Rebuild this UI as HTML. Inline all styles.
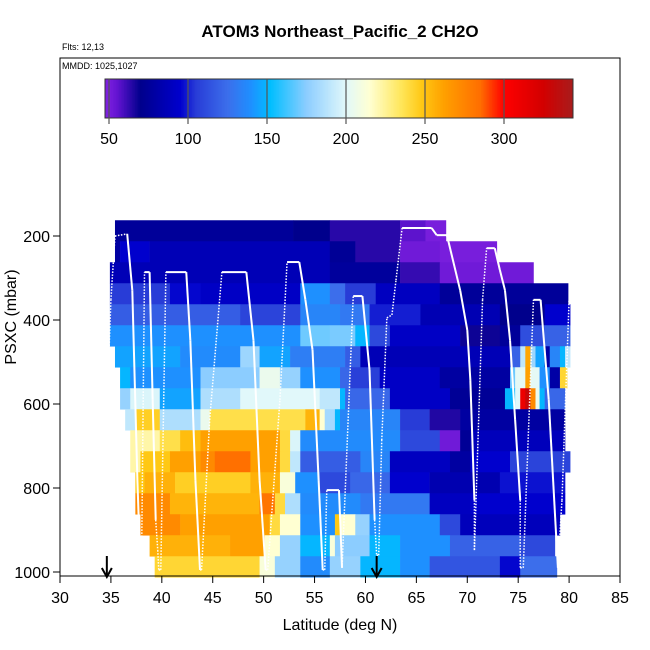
<!DOCTYPE html>
<html><head><meta charset="utf-8"><style>
html,body{margin:0;padding:0;background:#fff;}
svg{display:block;font-family:"Liberation Sans",sans-serif;}
</style></head><body>
<svg id="chart" width="650" height="650" viewBox="0 0 650 650" xmlns="http://www.w3.org/2000/svg">
<text x="340" y="37" text-anchor="middle" font-size="17" font-weight="bold">ATOM3 Northeast_Pacific_2 CH2O</text>
<text x="62" y="50" font-size="9">Flts: 12,13</text>
<text x="62" y="69" font-size="9">MMDD: 1025,1027</text>
<g id="cells"></g>
<g id="track"></g>
<g id="cbar"></g>
<g id="axes"></g>
<rect x="60" y="58" width="560" height="518" fill="none" stroke="#000" stroke-width="1"/>
<text x="340" y="630" text-anchor="middle" font-size="16">Latitude (deg N)</text>
<text transform="translate(16,317) rotate(-90)" text-anchor="middle" font-size="16">PSXC (mbar)</text>
</svg>
<script>
// ---- data ----
const xTicks = [30,35,40,45,50,55,60,65,70,75,80,85];
const yTicks = [200,400,600,800,1000];
const cbarTicks = [50,100,150,200,250,300];
const pressureBins = [187.5,237.5,287.5,337.5,387.5,437.5,487.5,537.5,587.5,637.5,687.5,737.5,787.5,837.5,887.5,937.5,987.5];
const row0 = [[35.4,52.9,75],[52.9,56.5,70],[56.5,63.4,64],[63.4,65.9,56],[65.9,67.9,50]];
const row1 = [[35.4,35.9,78],[35.9,38.8,95],[38.8,56.5,86],[56.5,59.0,74],[59.0,63.4,64],[63.4,67.3,52],[67.3,72.9,50]];
const row2 = [[34.9,56.5,86],[56.5,63.4,76],[63.4,67.3,62],[67.3,76.5,52]];
const row3 = [[34.9,40.8,105],[40.8,43.8,96],[43.8,53.6,92],[53.6,56.5,140],[56.5,58.0,125],[58.0,61.0,105],[61.0,67.3,90],[67.3,79.9,75]];
const row4 = [[34.9,47.7,118],[47.7,53.6,108],[53.6,57.5,135],[57.5,60.4,130],[60.4,65.4,100],[65.4,73.2,85],[73.2,77.6,70],[77.6,80.1,95]];
const row5 = [[34.9,53.6,140],[53.6,56.5,170],[56.5,59.0,172],[59.0,60.4,150],[60.4,62.4,110],[62.4,69.3,92],[69.3,73.2,68],[73.2,75.2,75],[75.2,77.6,112],[77.6,80.1,120]];
const row6 = [[35.4,41.8,145],[41.8,47.7,138],[47.7,49.6,180],[49.6,52.6,145],[52.6,58.0,132],[58.0,59.5,118],[59.5,74.2,86],[74.2,75.2,120],[75.2,75.7,190],[75.7,76.2,260],[76.2,76.7,180],[76.7,77.6,145],[77.6,78.1,80],[78.1,79.1,135],[79.1,79.6,150],[79.6,80.1,190]];
const row7 = [[35.9,36.9,150],[36.9,43.8,140],[43.8,49.6,175],[49.6,51.6,205],[51.6,53.6,178],[53.6,57.5,140],[57.5,58.5,122],[58.5,61.4,106],[61.4,67.3,92],[67.3,74.2,78],[74.2,74.7,170],[74.7,75.7,202],[75.7,76.2,262],[76.2,77.1,202],[77.1,78.1,140],[78.1,79.1,80],[79.1,79.8,242]];
const row8 = [[35.9,36.9,178],[36.9,39.8,198],[39.8,43.8,145],[43.8,47.7,185],[47.7,55.5,200],[55.5,57.5,190],[57.5,58.0,150],[58.0,62.4,122],[62.4,68.3,92],[68.3,73.7,74],[73.7,74.7,150],[74.7,75.2,200],[75.2,75.7,310],[75.7,76.2,330],[76.2,76.7,272],[76.7,77.1,205],[77.1,77.6,150],[77.6,79.6,122]];
const row9 = [[36.4,37.4,190],[37.4,39.8,245],[39.8,43.8,185],[43.8,44.7,205],[44.7,54.1,238],[54.1,55.5,255],[55.5,56.0,215],[56.0,57.0,182],[57.0,57.5,150],[57.5,63.4,135],[63.4,66.3,105],[66.3,69.3,65],[69.3,79.6,78]];
const row10 = [[36.9,39.8,222],[39.8,41.8,238],[41.8,43.8,252],[43.8,51.6,262],[51.6,52.6,240],[52.6,53.6,198],[53.6,63.4,138],[63.4,67.3,110],[67.3,69.3,52],[69.3,70.3,74],[70.3,79.6,88]];
const row11 = [[36.9,37.9,222],[37.9,40.8,248],[40.8,43.8,262],[43.8,45.2,272],[45.2,48.7,284],[48.7,51.6,262],[51.6,52.6,240],[52.6,53.6,190],[53.6,59.5,118],[59.5,62.4,135],[62.4,68.3,90],[68.3,70.3,78],[70.3,74.2,95],[74.2,80.1,108]];
const row12 = [[37.4,38.3,248],[38.3,41.3,256],[41.3,48.7,245],[48.7,51.6,256],[51.6,53.1,212],[53.1,55.5,140],[55.5,58.5,110],[58.5,62.4,122],[62.4,66.3,95],[66.3,73.2,84],[73.2,79.6,98]];
const row13 = [[37.4,40.8,272],[40.8,49.6,255],[49.6,51.1,282],[51.1,52.1,240],[52.1,53.6,185],[53.6,59.5,138],[59.5,66.3,130],[66.3,70.3,90],[70.3,79.6,95]];
const row14 = [[37.9,41.8,272],[41.8,50.6,262],[50.6,51.6,240],[51.6,53.6,215],[53.6,57.0,140],[57.0,57.5,248],[57.5,59.0,215],[59.0,60.4,178],[60.4,67.3,140],[67.3,69.3,110],[69.3,79.1,88]];
const row15 = [[38.8,46.7,256],[46.7,50.1,262],[50.1,51.6,215],[51.6,53.6,178],[53.6,56.5,150],[56.5,57.0,212],[57.0,60.4,175],[60.4,63.4,150],[63.4,68.3,140],[68.3,75.2,120],[75.2,78.6,110]];
const row16 = [[39.3,49.6,242],[49.6,51.1,212],[51.1,53.6,178],[53.6,56.5,138],[56.5,59.5,178],[59.5,63.4,150],[63.4,66.3,140],[66.3,73.2,115],[73.2,75.2,96],[75.2,78.8,125]];
const rows = [row0,row1,row2,row3,row4,row5,row6,row7,row8,row9,row10,row11,row12,row13,row14,row15,row16];
const trackLat = [34.8,35.0,35.4,36.6,37.1,37.6,37.8,38.0,38.3,38.8,39.1,39.4,39.6,39.7,39.9,40.4,42.4,42.8,43.3,43.75,43.9,44.7,45.9,48.3,49.0,49.6,50.2,50.4,51.6,52.3,53.5,54.1,54.8,55.4,55.8,56.0,56.2,57.4,57.7,58.8,59.7,60.4,60.9,61.1,61.3,61.6,62.1,62.6,63.0,63.6,66.5,67.0,68.0,69.3,70.0,70.3,70.7,70.7,71.5,71.9,72.7,73.2,73.7,74.2,74.7,75.2,75.2,75.5,76.5,77.2,78.0,78.9,79.3,80.0];
const trackP = [483,352,200,195,329,781,924,995,286,286,590,876,948,995,995,286,286,448,781,995,995,638,286,286,448,781,995,995,590,262,262,352,471,781,995,995,805,805,990,343,343,519,876,960,960,686,395,388,305,181,181,198,198,329,424,543,829,948,352,229,229,281,329,448,638,829,990,990,352,352,590,990,829,352];
const arrowLats = [34.6,61.1];

// ---- scales ----
const X = lat => 60 + (lat-30)*10.182;
const Y = p => 236 + (p-200)*0.42;
const CB = v => 109 + (v-50)*1.58;
const stops = [[45,[140,40,230]],[55,[100,20,210]],[70,[0,0,140]],[95,[0,0,205]],[105,[40,60,215]],[125,[60,110,235]],[140,[30,144,255]],[152,[0,190,255]],[175,[140,205,255]],[200,[225,248,250]],[215,[255,255,210]],[235,[255,230,90]],[248,[255,200,20]],[262,[255,160,0]],[285,[255,110,0]],[300,[255,0,0]],[325,[210,0,0]],[345,[165,30,30]]];
function col(v){
  if(v<=stops[0][0]) return 'rgb('+stops[0][1]+')';
  for(let i=1;i<stops.length;i++){ if(v<=stops[i][0]){ const a=stops[i-1],b=stops[i],t=(v-a[0])/(b[0]-a[0]); const c=a[1].map((q,j)=>Math.round(q+(b[1][j]-q)*t)); return 'rgb('+c+')'; } }
  return 'rgb('+stops[stops.length-1][1]+')';
}
const NS='http://www.w3.org/2000/svg';
function mk(tag,attrs,parent){const e=document.createElementNS(NS,tag);for(const k in attrs)e.setAttribute(k,attrs[k]);parent.appendChild(e);return e;}

// cells
const cells=document.getElementById('cells');
rows.forEach((segs,k)=>{
  const y0=Y(pressureBins[k]-25), y1=Y(pressureBins[k]+25);
  segs.forEach(s=>{
    const r=mk('rect',{x:X(s[0]),y:y0,width:X(s[1])-X(s[0])+0.3,height:y1-y0+0.3,fill:col(s[2])},cells);
    
    
  });
});

// track
const track=document.getElementById('track');
for(let i=0;i<trackLat.length-1;i++){
  const solid = trackP[i+1]>=trackP[i] && trackLat[i+1]>trackLat[i] && trackP[i]<850;
  const l=mk('line',{x1:X(trackLat[i]),y1:Y(trackP[i]),x2:X(trackLat[i+1]),y2:Y(trackP[i+1]),stroke:'#fff','stroke-width':solid?2:1.5,'stroke-dasharray':solid?'none':'1.5 1.5'},track);
  
  
}

// colorbar
const cbar=document.getElementById('cbar');
for(let v=47.5;v<343.5;v+=1){
  const r=mk('rect',{x:CB(v),y:79,width:2.2,height:39,fill:col(v+0.5)},cbar);
  
  
}
mk('rect',{x:105,y:79,width:468,height:39,fill:'none',stroke:'#333','stroke-width':1},cbar);
cbarTicks.forEach(t=>{
  const l=mk('line',{x1:CB(t),y1:79,x2:CB(t),y2:124,stroke:'#555','stroke-width':1.2},cbar);
  
  
  const tx=mk('text',{x:CB(t),y:144,'text-anchor':'middle','font-size':16},cbar);
  tx.textContent=t;
  
  
});

// axes
const axes=document.getElementById('axes');
mk('line',{x1:X(30),y1:576,x2:X(85),y2:576,stroke:'#000'},axes);
xTicks.forEach(t=>{
  const l=mk('line',{x1:X(t),y1:576,x2:X(t),y2:583,stroke:'#000'},axes);
  
  
  const tx=mk('text',{x:X(t),y:603,'text-anchor':'middle','font-size':16},axes);
  tx.textContent=t;
  
  
});
yTicks.forEach(t=>{
  const l=mk('line',{x1:53,y1:Y(t),x2:60,y2:Y(t),stroke:'#000'},axes);
  
  
  const tx=mk('text',{x:50,y:Y(t)+6,'text-anchor':'end','font-size':16},axes);
  tx.textContent=t;
  
  
});
arrowLats.forEach(a=>{
  const g=mk('g',{},axes);
  
  
  mk('line',{x1:X(a),y1:556,x2:X(a),y2:576,stroke:'#000','stroke-width':2},g);
  mk('polyline',{points:(X(a)-5)+',568 '+X(a)+',577 '+(X(a)+5)+',568',fill:'none',stroke:'#000','stroke-width':2},g);
});
</script>
</body></html>
